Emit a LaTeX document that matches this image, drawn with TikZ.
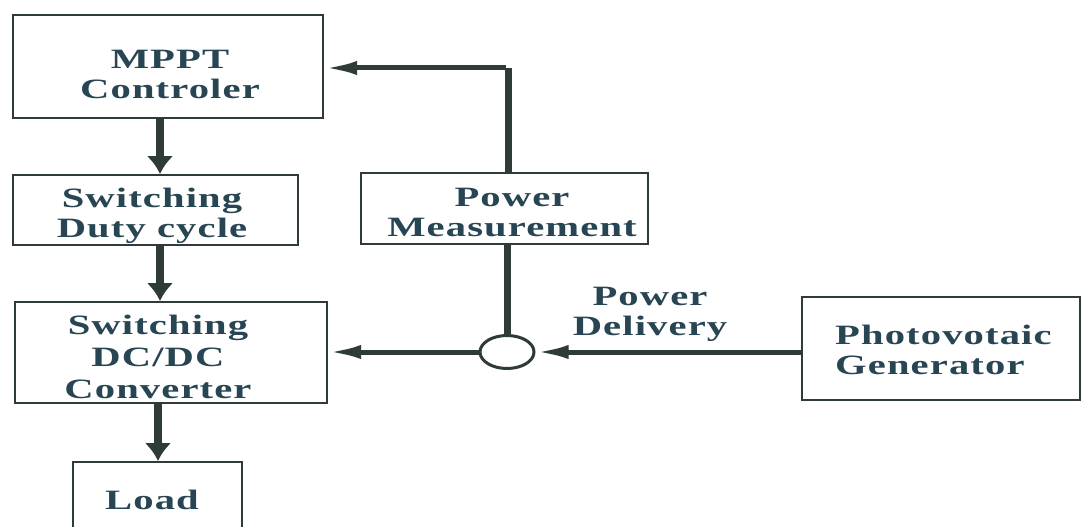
\documentclass[tikz,border=0pt]{standalone}
\usepackage{fontspec}
\newfontfamily\dfont[FakeStretch=1.45,LetterSpace=4]{Liberation Serif}
\usetikzlibrary{arrows.meta,shapes.geometric}
\definecolor{txtc}{HTML}{274552}
\definecolor{linec}{HTML}{2E3B38}
\tikzset{
  blk/.style={draw=linec, line width=2pt, inner sep=0pt},
  lbl/.style={inner sep=0pt, align=center, text=txtc,
    font=\dfont\bfseries\fontsize{28}{30}\selectfont},
  varrow/.style={draw=linec, line width=8pt,
    -{Latex[length=18pt,width=27pt]}},
  harrow/.style={draw=linec, line width=5pt,
    -{Latex[length=33pt,width=14pt]}},
  vline/.style={draw=linec, line width=7pt},
}
\begin{document}
\begin{tikzpicture}[x=1pt,y=-1pt]
\useasboundingbox[fill=white] (0,0) rectangle (1084,527);
\clip (0,0) rectangle (1084,527);
% boxes
\node[blk, minimum width=310pt, minimum height=103pt] (mppt) at (168,66.5) {};
\node[blk, minimum width=285pt, minimum height=70pt] (duty) at (155.5,210) {};
\node[blk, minimum width=312pt, minimum height=101pt] (dcdc) at (171,352.5) {};
\node[blk, minimum width=169pt, minimum height=80pt] (load) at (157.5,502) {};
\node[blk, minimum width=287pt, minimum height=71pt] (pm) at (504.5,208.5) {};
\node[blk, minimum width=278pt, minimum height=103pt] (pv) at (941,348.5) {};
\node[draw=linec, line width=3pt, ellipse, inner sep=0pt, minimum width=54pt, minimum height=33pt] (sum) at (507,352) {};
% texts
\node[lbl] (mpptT) at (170,74) {MPPT\\Controler};
\node[lbl] (dutyT) at (152,216) {Switching\\Duty cycle};
\node[lbl, font=\dfont\bfseries\fontsize{28}{32}\selectfont] (dcdcT) at (158,357) {Switching\\DC/DC\\Converter};
\node[lbl] (loadT) at (152,500) {Load};
\node[lbl] (pmT) at (512,213) {Power\\Measurement};
\node[lbl, align=left, anchor=west] (pvT) at (835,350) {Photovotaic\\Generator};
\node[lbl] (pd) at (650,314) {Power\\Delivery};
\coordinate (corner) at (508,68);
% vertical chain
\draw[varrow] (mppt.south -| 160,0) -- (duty.north -| 160,0);
\draw[varrow] (duty.south -| 160,0) -- (dcdc.north -| 160,0);
\draw[varrow] (dcdc.south -| 158,0) -- (load.north -| 158,0);
% feedback
\draw[vline] (pm.north -| corner) -- (corner);
\draw[harrow] ([xshift=-2.5pt]corner) -- (mppt.east |- corner);
\draw[vline] (pm.south -| sum.north) -- (sum.north);
% power flow
\draw[harrow] (pv.west |- sum.east) -- (sum.east);
\draw[harrow] (sum.west) -- (dcdc.east |- sum.west);
\end{tikzpicture}
\end{document}
